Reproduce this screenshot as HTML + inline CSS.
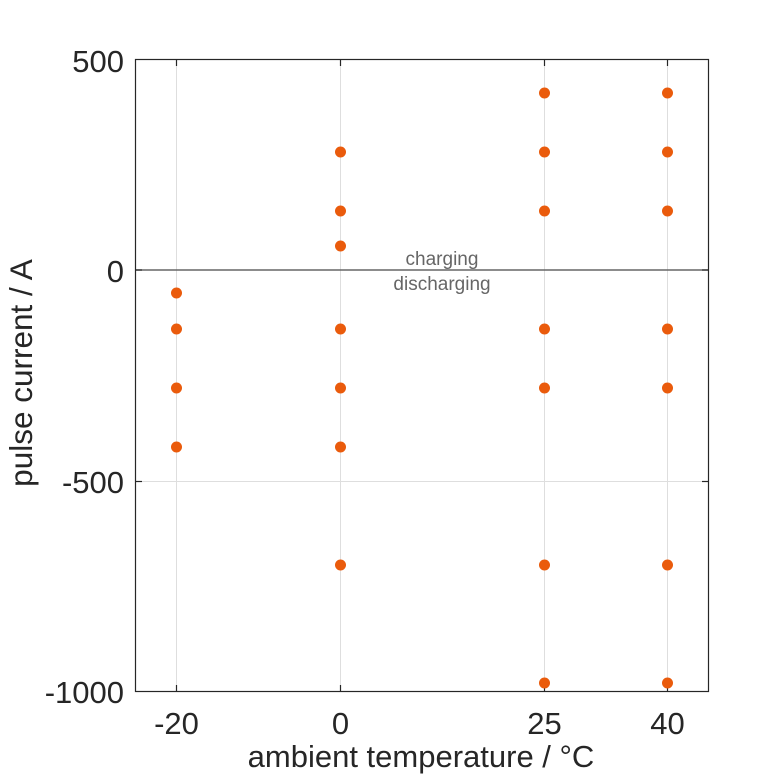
<!DOCTYPE html>
<html>
<head>
<meta charset="utf-8">
<style>
html,body{margin:0;padding:0;background:#fff;}
svg{display:block;}
text{font-family:"Liberation Sans",Arial,sans-serif;}
</style>
</head>
<body>
<svg width="781" height="781" viewBox="0 0 781 781" xmlns="http://www.w3.org/2000/svg">
<rect width="781" height="781" fill="#fff"/>
<!-- grid -->
<g stroke="#dedede" stroke-width="1">
<line x1="176.5" y1="60" x2="176.5" y2="691"/>
<line x1="340.5" y1="60" x2="340.5" y2="691"/>
<line x1="544.5" y1="60" x2="544.5" y2="691"/>
<line x1="667.5" y1="60" x2="667.5" y2="691"/>
<line x1="136" y1="481.5" x2="708" y2="481.5"/>
</g>
<!-- zero line -->
<line x1="136" y1="270" x2="708" y2="270" stroke="#666" stroke-width="1.6"/>
<!-- axes box -->
<rect x="135.5" y="59.5" width="573" height="632" fill="none" stroke="#262626" stroke-width="1.2"/>
<!-- ticks -->
<g stroke="#262626" stroke-width="1.2">
<line x1="176.5" y1="60" x2="176.5" y2="66"/><line x1="176.5" y1="691" x2="176.5" y2="685"/>
<line x1="340.5" y1="60" x2="340.5" y2="66"/><line x1="340.5" y1="691" x2="340.5" y2="685"/>
<line x1="544.5" y1="60" x2="544.5" y2="66"/><line x1="544.5" y1="691" x2="544.5" y2="685"/>
<line x1="667.5" y1="60" x2="667.5" y2="66"/><line x1="667.5" y1="691" x2="667.5" y2="685"/>
<line x1="136" y1="270" x2="142" y2="270"/><line x1="708" y1="270" x2="702" y2="270"/>
<line x1="136" y1="481.5" x2="142" y2="481.5"/><line x1="708" y1="481.5" x2="702" y2="481.5"/>
</g>
<!-- annotations -->
<text x="442" y="265" font-size="19" fill="#666" text-anchor="middle">charging</text>
<text x="442" y="290" font-size="19" fill="#666" text-anchor="middle">discharging</text>
<!-- points -->
<g fill="#ea5b0c">
<circle cx="176.5" cy="293" r="5.5"/>
<circle cx="176.5" cy="329" r="5.5"/>
<circle cx="176.5" cy="388" r="5.5"/>
<circle cx="176.5" cy="447" r="5.5"/>

<circle cx="340.5" cy="152" r="5.5"/>
<circle cx="340.5" cy="211" r="5.5"/>
<circle cx="340.5" cy="246" r="5.5"/>
<circle cx="340.5" cy="329" r="5.5"/>
<circle cx="340.5" cy="388" r="5.5"/>
<circle cx="340.5" cy="447" r="5.5"/>
<circle cx="340.5" cy="565" r="5.5"/>

<circle cx="544.5" cy="93" r="5.5"/>
<circle cx="544.5" cy="152" r="5.5"/>
<circle cx="544.5" cy="211" r="5.5"/>
<circle cx="544.5" cy="329" r="5.5"/>
<circle cx="544.5" cy="388" r="5.5"/>
<circle cx="544.5" cy="565" r="5.5"/>
<circle cx="544.5" cy="683" r="5.5"/>

<circle cx="667.5" cy="93" r="5.5"/>
<circle cx="667.5" cy="152" r="5.5"/>
<circle cx="667.5" cy="211" r="5.5"/>
<circle cx="667.5" cy="329" r="5.5"/>
<circle cx="667.5" cy="388" r="5.5"/>
<circle cx="667.5" cy="565" r="5.5"/>
<circle cx="667.5" cy="683" r="5.5"/>
</g>
<!-- y tick labels -->
<g font-size="31" fill="#262626" text-anchor="end">
<text x="124" y="72">500</text>
<text x="124" y="282">0</text>
<text x="124" y="493">-500</text>
<text x="124" y="703">-1000</text>
</g>
<!-- x tick labels -->
<g font-size="31" fill="#262626" text-anchor="middle">
<text x="176.5" y="734">-20</text>
<text x="340.5" y="734">0</text>
<text x="544.5" y="734">25</text>
<text x="667.5" y="734">40</text>
</g>
<!-- axis labels -->
<text x="421" y="767" font-size="31" fill="#262626" text-anchor="middle">ambient temperature / °C</text>
<text transform="translate(32,373) rotate(-90)" font-size="31.5" fill="#262626" text-anchor="middle">pulse current / A</text>
</svg>
</body>
</html>
